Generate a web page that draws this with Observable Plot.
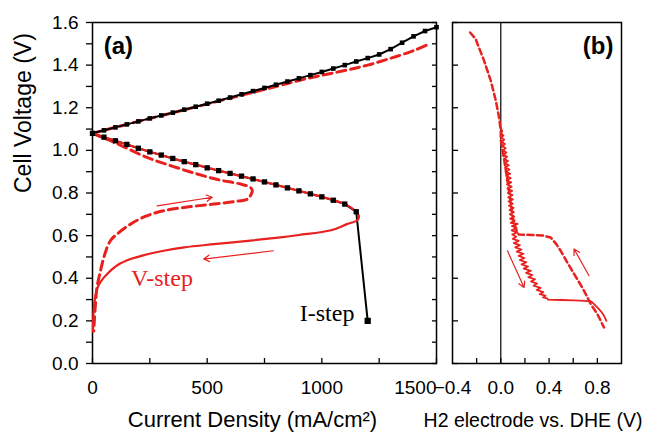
<!DOCTYPE html>
<html>
<head>
<meta charset="utf-8">
<script src="https://cdn.jsdelivr.net/npm/d3@7"></script>
<script src="https://cdn.jsdelivr.net/npm/@observablehq/plot@0.6"></script>
<style>
  body { margin: 0; background: #fff; }
  #wrap { position: relative; width: 646px; height: 434px; overflow: hidden; background: #fff; }
  #wrap svg { position: absolute; top: 0; }
</style>
</head>
<body>
<div id="wrap"></div>
<script>
// ---------- Panel (a) data ----------
const iStepUpJ = [0,50,100,150,200,250,300,350,400,450,500,550,600,650,700,750,800,850,900,950,1000,1050,1100,1150,1200,1250,1300,1350,1400,1450,1500];
const iStepUpV = [1.080,1.094,1.108,1.122,1.136,1.150,1.164,1.177,1.191,1.205,1.219,1.233,1.248,1.263,1.278,1.293,1.308,1.323,1.338,1.353,1.368,1.384,1.400,1.417,1.433,1.450,1.475,1.505,1.535,1.560,1.578];
const iStepDownJ = [0,50,100,150,200,250,300,350,400,450,500,550,600,650,700,750,800,850,900,950,1000,1050,1100,1150,1200];
const iStepDownV = [1.080,1.062,1.045,1.028,1.010,0.993,0.978,0.962,0.947,0.933,0.918,0.905,0.892,0.879,0.866,0.852,0.838,0.824,0.810,0.796,0.782,0.766,0.748,0.712,0.200];
const vStepSolidJ = [0,200,400,600,800,1000,1100,1150,1162,1155,1110,1040,900,820,700,530,400,310,230,166,110,64,35,20,10,5,3,2];
const vStepSolidV = [1.080,1.010,0.947,0.892,0.838,0.782,0.748,0.712,0.690,0.672,0.654,0.625,0.603,0.592,0.578,0.560,0.545,0.529,0.510,0.490,0.462,0.420,0.383,0.350,0.300,0.250,0.200,0.150];
const vStepDashUpJ = [0,200,400,600,800,900,1000,1100,1200,1300,1400,1470];
const vStepDashUpV = [1.080,1.136,1.190,1.245,1.300,1.328,1.352,1.375,1.400,1.432,1.468,1.500];
const vStepDashDownJ = [0,100,238,350,457,550,645,689,697,690,675,620,529,420,311,230,166,110,78,50,35,20,13,8,6];
const vStepDashDownV = [1.080,1.035,0.967,0.925,0.889,0.862,0.842,0.826,0.810,0.790,0.771,0.760,0.748,0.735,0.717,0.690,0.654,0.610,0.576,0.500,0.435,0.360,0.280,0.200,0.153];
const arrowsA = [
  {x1: 282, y1: 0.740, x2: 522, y2: 0.780},
  {x1: 788, y1: 0.529, x2: 485, y2: 0.490}
];
const panelLabelA = [{label: "(a)", x: 113, y: 1.49}];
const stepLabelsA = [
  {label: "V-step", x: 303, y: 0.40, color: "red"},
  {label: "I-step", x: 1023, y: 0.236, color: "black"}
];

// ---------- Panel (b) data ----------
const h2SolidE = [0.000,0.012,0.002,0.022,0.006,0.028,0.010,0.034,0.014,0.040,
  0.018,0.046,0.022,0.052,0.028,0.060,0.032,0.066,0.036,0.072,
  0.040,0.078,0.044,0.082,0.048,0.086,0.052,0.090,0.055,0.094,
  0.058,0.096,0.062,0.100,0.064,0.098,0.068,0.106,0.072,0.108,
  0.075,0.112,0.078,0.116,0.082,0.140,0.092,0.130,0.090,0.135,
  0.095,0.128,0.100,0.148,0.108,0.158,0.120,0.172,0.132,0.188,
  0.148,0.196,0.158,0.212,0.172,0.226,0.190,0.250,0.210,0.262,
  0.228,0.284,0.250,0.300,0.272,0.330,0.298,0.352,0.322,0.370,
  0.350,0.385,0.390,0.500,0.600,0.700,0.745,0.760,0.800,0.830,
  0.855,0.875];
const h2SolidV = [1.105,1.09,1.08,1.07,1.06,1.05,1.04,1.03,1.02,1.01,
  1.00,0.99,0.98,0.97,0.96,0.95,0.94,0.93,0.92,0.91,
  0.90,0.89,0.88,0.87,0.86,0.85,0.84,0.83,0.82,0.81,
  0.80,0.79,0.78,0.77,0.76,0.75,0.74,0.73,0.72,0.71,
  0.70,0.69,0.68,0.67,0.66,0.655,0.645,0.635,0.625,0.615,
  0.605,0.595,0.585,0.575,0.565,0.555,0.545,0.535,0.525,0.515,
  0.505,0.495,0.485,0.475,0.465,0.455,0.445,0.435,0.425,0.415,
  0.405,0.395,0.385,0.375,0.365,0.355,0.345,0.335,0.325,0.318,
  0.31,0.305,0.300,0.298,0.296,0.294,0.292,0.286,0.263,0.245,
  0.224,0.200];
const h2DashE = [-0.254,-0.207,-0.193,-0.171,-0.138,-0.083,-0.041,-0.014,0.000,0.000,0.030,0.060,0.085,0.105,0.130,0.150,0.250,0.350,0.414,0.460,0.497,0.550,0.607,0.650,0.690,0.745,0.800,0.855];
const h2DashV = [1.553,1.522,1.499,1.468,1.420,1.327,1.233,1.154,1.092,1.050,0.950,0.840,0.740,0.670,0.625,0.605,0.603,0.600,0.591,0.560,0.528,0.475,0.420,0.380,0.341,0.279,0.232,0.169];
const arrowsB = [
  {x1: 0.055, y1: 0.529, x2: 0.193, y2: 0.357},
  {x1: 0.731, y1: 0.412, x2: 0.607, y2: 0.537}
];
const panelLabelB = [{label: "(b)", x: 0.807, y: 1.49}];

// ---------- ticks ----------
const yTicks = [0, 0.2, 0.4, 0.6, 0.8, 1.0, 1.2, 1.4, 1.6];
const yMinorTicks = [0,0.1,0.2,0.3,0.4,0.5,0.6,0.7,0.8,0.9,1.0,1.1,1.2,1.3,1.4,1.5,1.6];
const xTicksA = [0, 500, 1000];
const xLastTickA = [1500];
const xMinorTicksA = [0, 250, 500, 750, 1000, 1250, 1500];
const xTicksB = [-0.4, 0, 0.4, 0.8];
const xMinorTicksB = [-0.2, 0, 0.2, 0.4, 0.6, 0.8];

const xLabelA = "Current Density (mA/cm²)";
const yLabelA = "Cell Voltage (V)";
const xLabelB = "H2 electrode vs. DHE (V)";

// ---------- helpers ----------
const zipXY = (xs, ys) => xs.map((x, i) => ({x, y: ys[i]}));
const red = "#e8211f";
const font = "'Liberation Sans', Arial, sans-serif";
const serif = "'Liberation Serif', 'Times New Roman', serif";
const fmt1 = d3.format(".1f");
const fmtInt = d3.format("d");
const blank = () => "";

const iUp = zipXY(iStepUpJ, iStepUpV);
const iDown = zipXY(iStepDownJ, iStepDownV);
const vSolid = zipXY(vStepSolidJ, vStepSolidV);
const vDashUp = zipXY(vStepDashUpJ, vStepDashUpV);
const vDashDown = zipXY(vStepDashDownJ, vStepDashDownV);
const hSolid = zipXY(h2SolidE, h2SolidV);
const hDash = zipXY(h2DashE, h2DashV);

const common = {
  height: 434,
  marginTop: 22,
  marginBottom: 71,
  style: {background: "transparent", overflow: "visible", fontFamily: font, color: "black"}
};

const plotA = Plot.plot({
  ...common,
  width: 440,
  marginLeft: 92,
  marginRight: 4,
  x: {domain: [0, 1500]},
  y: {domain: [0, 1.6]},
  marks: [
    Plot.axisY({ticks: yMinorTicks, tickSize: 6, tickFormat: blank, label: null, strokeWidth: 1.3}),
    Plot.axisY({ticks: yTicks, tickSize: 0, tickPadding: 14, tickFormat: fmt1, fontSize: 19, label: null}),
    Plot.axisY({anchor: "right", ticks: yMinorTicks, tickSize: 5, dx: -5, tickFormat: blank, label: null, strokeWidth: 1.3}),
    Plot.axisX({ticks: xMinorTicksA, tickSize: 5, dy: -5, tickFormat: blank, label: null, strokeWidth: 1.3}),
    Plot.axisX({ticks: xTicksA, tickSize: 0, tickPadding: 17, tickFormat: fmtInt, fontSize: 19, label: null}),
    Plot.axisX({ticks: xLastTickA, tickSize: 0, tickPadding: 17, tickFormat: fmtInt, fontSize: 19, textAnchor: "end", label: null}),
    Plot.frame({stroke: "black", strokeWidth: 1.5}),
    Plot.line(vDashUp, {x: "x", y: "y", stroke: red, strokeWidth: 3, strokeDasharray: "9,5", curve: "catmull-rom"}),
    Plot.line(vDashDown, {x: "x", y: "y", stroke: red, strokeWidth: 3, strokeDasharray: "9,5", curve: "catmull-rom"}),
    Plot.line(iUp, {x: "x", y: "y", stroke: "black", strokeWidth: 2}),
    Plot.line(iDown, {x: "x", y: "y", stroke: "black", strokeWidth: 2}),
    Plot.line(vSolid, {x: "x", y: "y", stroke: red, strokeWidth: 2.2, curve: "catmull-rom"}),
    Plot.dot(iUp, {x: "x", y: "y", symbol: "square", r: 2.6, fill: "black"}),
    Plot.dot(iDown, {x: "x", y: "y", symbol: "square", r: (d) => d.y < 0.5 ? 3.6 : 2.6, fill: "black"}),
    Plot.arrow(arrowsA, {x1: "x1", y1: "y1", x2: "x2", y2: "y2", stroke: red, strokeWidth: 1.2, headLength: 8}),
    Plot.text(panelLabelA, {x: "x", y: "y", text: "label", fontSize: 24, fontWeight: "bold", fill: "black"}),
    Plot.text(stepLabelsA, {x: "x", y: "y", text: "label", fontSize: 24, fontFamily: serif, fill: (d) => d.color === "red" ? red : "black"}),
    Plot.text([yLabelA], {frameAnchor: "left", dx: -69, rotate: -90, text: (d) => d, fontSize: 23, lineAnchor: "middle"}),
    Plot.text([xLabelA], {frameAnchor: "bottom", dx: -12, dy: 56, text: (d) => d, fontSize: 22, lineAnchor: "middle"})
  ]
});

const plotB = Plot.plot({
  ...common,
  width: 246,
  marginLeft: 52,
  marginRight: 25,
  x: {domain: [-0.4, 1.0]},
  y: {domain: [0, 1.6]},
  marks: [
    Plot.axisY({ticks: yTicks, tickSize: 6, dx: 6, tickFormat: blank, label: null, strokeWidth: 1.3}),
    Plot.axisX({ticks: xMinorTicksB, tickSize: 5, dy: -5, tickFormat: blank, label: null, strokeWidth: 1.3}),
    Plot.axisX({ticks: xTicksB, tickSize: 0, tickPadding: 17, tickFormat: fmt1, fontSize: 19, label: null}),
    Plot.frame({stroke: "black", strokeWidth: 1.5}),
    Plot.ruleX([0], {stroke: "black", strokeWidth: 1.2}),
    Plot.line(hDash, {x: "x", y: "y", stroke: red, strokeWidth: 2.5, strokeDasharray: "6,3.5"}),
    Plot.line(hSolid, {x: "x", y: "y", stroke: red, strokeWidth: 1.8}),
    Plot.arrow(arrowsB, {x1: "x1", y1: "y1", x2: "x2", y2: "y2", stroke: red, strokeWidth: 1.2, headLength: 8}),
    Plot.text(panelLabelB, {x: "x", y: "y", text: "label", fontSize: 24, fontWeight: "bold", fill: "black"}),
    Plot.text([xLabelB], {frameAnchor: "bottom", dx: -4, dy: 57, text: (d) => d, fontSize: 19.5, lineAnchor: "middle"})
  ]
});

const wrap = document.getElementById("wrap");
plotA.style.left = "0px";
plotB.style.left = "400px";
wrap.appendChild(plotA);
wrap.appendChild(plotB);
</script>
</body>
</html>
